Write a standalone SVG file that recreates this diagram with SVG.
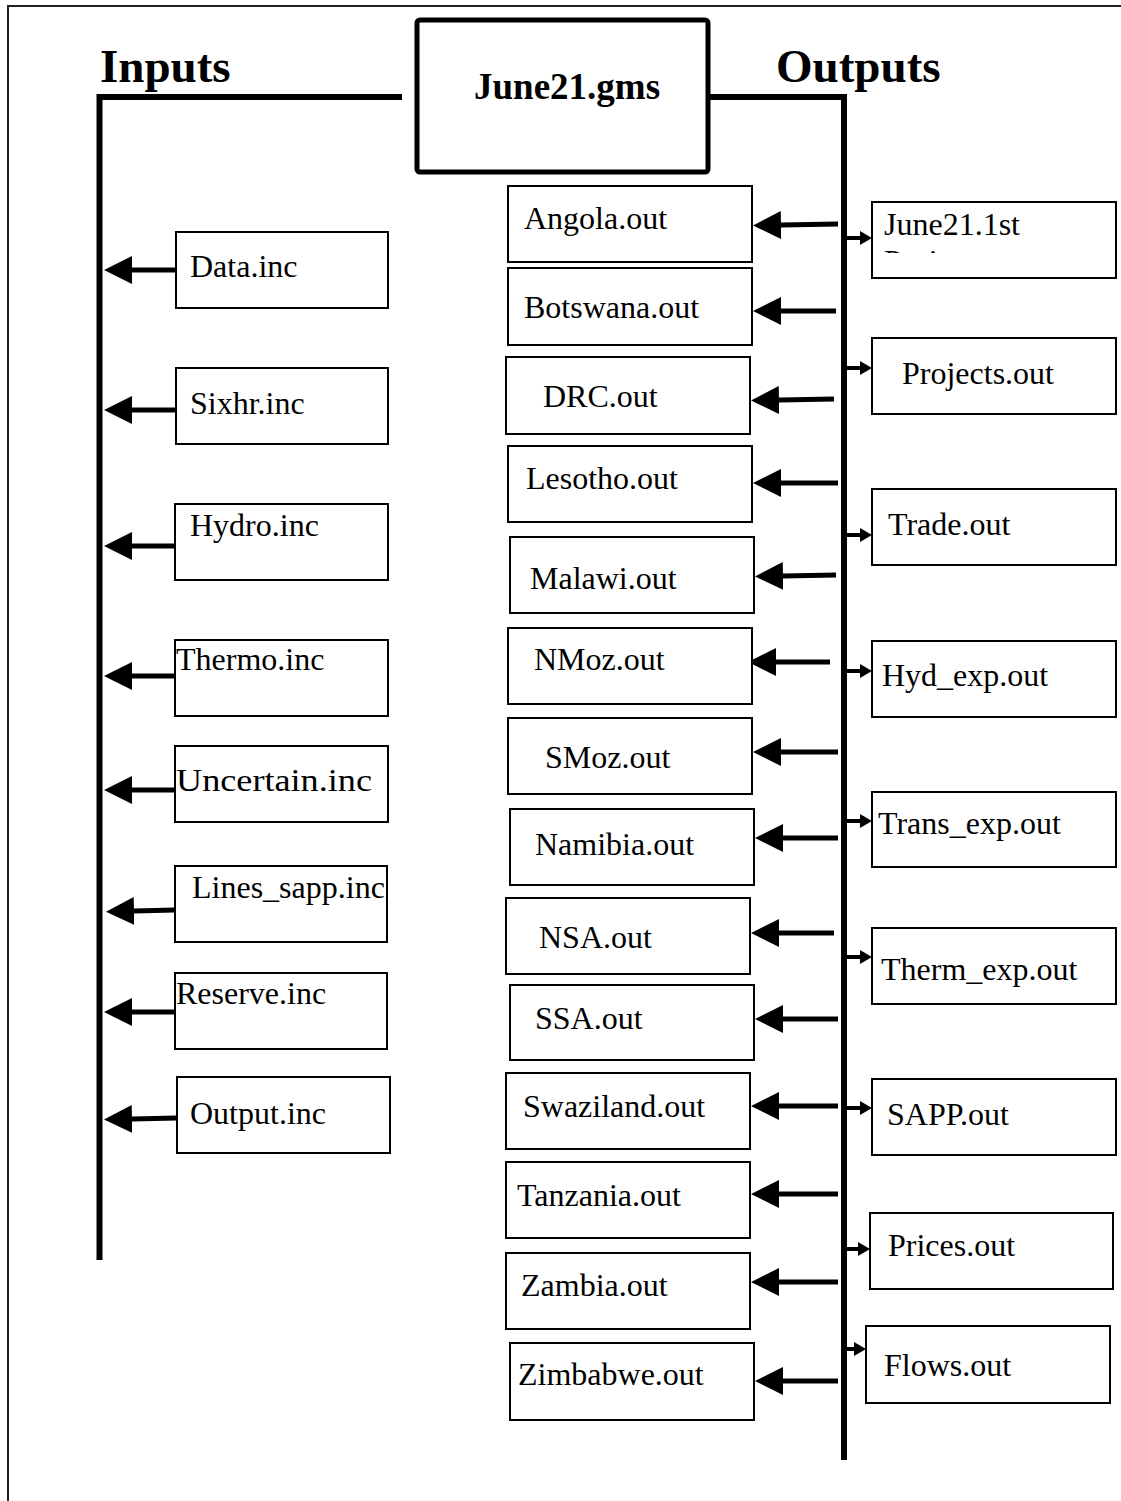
<svg xmlns="http://www.w3.org/2000/svg" width="1121" height="1501" viewBox="0 0 1121 1501">
  <style>
    .frame { fill: none; stroke: #222; stroke-width: 2; }
    .trunk { fill: none; stroke: #000; stroke-width: 6; }
    .box { fill: #fff; stroke: #000; stroke-width: 2; }
    .main { fill: #fff; stroke: #000; stroke-width: 5; }
    .lbl { font-family: "Liberation Serif", "Times New Roman", serif; font-size: 32px; fill: #000; }
    .head { font-family: "Liberation Serif", "Times New Roman", serif; font-weight: bold; font-size: 47px; fill: #000; }
    .gms { font-family: "Liberation Serif", "Times New Roman", serif; font-weight: bold; font-size: 37px; fill: #000; }
    .big { stroke: #000; stroke-width: 5; fill: none; marker-end: url(#bigHead); }
    .small { stroke: #000; stroke-width: 4; fill: none; marker-end: url(#smallHead); }
  </style>
  <defs>
    <marker id="bigHead" markerUnits="userSpaceOnUse" viewBox="0 -14 28 28" refX="0" refY="0" markerWidth="28" markerHeight="28" orient="auto">
      <path d="M0,-14 L28,0 L0,14 z" fill="#000"/>
    </marker>
    <marker id="smallHead" markerUnits="userSpaceOnUse" viewBox="0 -7 12 14" refX="0" refY="0" markerWidth="12" markerHeight="14" orient="auto">
      <path d="M0,-7 L12,0 L0,7 z" fill="#000"/>
    </marker>
    <clipPath id="firstClip">
      <rect x="873" y="203" width="242" height="50"/>
    </clipPath>
  </defs>

  <rect width="1121" height="1501" fill="#fff"/>

  <!-- page frame -->
  <path class="frame" d="M8,1501 L8,6 L1121,6"/>

  <!-- headings -->
  <text class="head" x="100" y="82">Inputs</text>
  <text class="head" x="776" y="82">Outputs</text>

  <!-- connectors: trunks and arrows -->
  <g id="connectors">
    <path class="trunk" d="M99.5,1260 L99.5,97 L402,97"/>
    <path class="trunk" d="M708,97 L844,97 L844,1460"/>

    <!-- include files feed the model -->
    <line class="big" x1="176" y1="270" x2="132" y2="270"/>
    <line class="big" x1="176" y1="410" x2="132" y2="410"/>
    <line class="big" x1="175" y1="546" x2="132" y2="546"/>
    <line class="big" x1="175" y1="676" x2="132" y2="676"/>
    <line class="big" x1="175" y1="790" x2="132" y2="790"/>
    <line class="big" x1="175" y1="910" x2="134" y2="911"/>
    <line class="big" x1="175" y1="1012" x2="132" y2="1012"/>
    <line class="big" x1="177" y1="1118" x2="132" y2="1119"/>

    <!-- country outputs -->
    <line class="big" x1="838" y1="224" x2="781" y2="225"/>
    <line class="big" x1="836" y1="311" x2="781" y2="311"/>
    <line class="big" x1="834" y1="399" x2="779" y2="400"/>
    <line class="big" x1="838" y1="483" x2="781" y2="483"/>
    <line class="big" x1="836" y1="575" x2="783" y2="576"/>
    <line class="big" x1="830" y1="662" x2="776" y2="662"/>
    <line class="big" x1="838" y1="752" x2="781" y2="752"/>
    <line class="big" x1="838" y1="838" x2="783" y2="838"/>
    <line class="big" x1="834" y1="933" x2="779" y2="933"/>
    <line class="big" x1="838" y1="1019" x2="783" y2="1019"/>
    <line class="big" x1="838" y1="1106" x2="779" y2="1106"/>
    <line class="big" x1="838" y1="1194" x2="779" y2="1194"/>
    <line class="big" x1="838" y1="1282" x2="779" y2="1282"/>
    <line class="big" x1="838" y1="1381" x2="783" y2="1381"/>

    <!-- summary outputs -->
    <line class="small" x1="846" y1="238" x2="860" y2="238"/>
    <line class="small" x1="846" y1="368" x2="860" y2="368"/>
    <line class="small" x1="846" y1="535" x2="860" y2="535"/>
    <line class="small" x1="846" y1="671" x2="860" y2="671"/>
    <line class="small" x1="846" y1="821" x2="860" y2="821"/>
    <line class="small" x1="846" y1="957" x2="860" y2="957"/>
    <line class="small" x1="846" y1="1108" x2="860" y2="1108"/>
    <line class="small" x1="846" y1="1249" x2="858" y2="1249"/>
    <line class="small" x1="846" y1="1349" x2="854" y2="1349"/>
  </g>

  <!-- model file -->
  <g id="june21-gms">
    <rect class="main" x="417" y="20" width="291" height="152" rx="3"/>
    <text class="gms" x="474" y="99">June21.gms</text>
  </g>

  <!-- include files -->
  <g id="data-inc"><rect class="box" x="176" y="232" width="212" height="76"/><text class="lbl" x="190" y="277">Data.inc</text></g>
  <g id="sixhr-inc"><rect class="box" x="176" y="368" width="212" height="76"/><text class="lbl" x="190" y="414">Sixhr.inc</text></g>
  <g id="hydro-inc"><rect class="box" x="175" y="504" width="213" height="76"/><text class="lbl" x="190" y="536">Hydro.inc</text></g>
  <g id="thermo-inc"><rect class="box" x="175" y="640" width="213" height="76"/><text class="lbl" x="176" y="670">Thermo.inc</text></g>
  <g id="uncertain-inc"><rect class="box" x="175" y="746" width="213" height="76"/><text class="lbl" x="176" y="791" textLength="196" lengthAdjust="spacingAndGlyphs">Uncertain.inc</text></g>
  <g id="lines-sapp-inc"><rect class="box" x="175" y="866" width="212" height="76"/><text class="lbl" x="192" y="898">Lines_sapp.inc</text></g>
  <g id="reserve-inc"><rect class="box" x="175" y="973" width="212" height="76"/><text class="lbl" x="176" y="1004">Reserve.inc</text></g>
  <g id="output-inc"><rect class="box" x="177" y="1077" width="213" height="76"/><text class="lbl" x="190" y="1124">Output.inc</text></g>

  <!-- country output files -->
  <g id="angola-out"><rect class="box" x="508" y="186" width="244" height="76"/><text class="lbl" x="524" y="229">Angola.out</text></g>
  <g id="botswana-out"><rect class="box" x="508" y="268" width="244" height="77"/><text class="lbl" x="524" y="318">Botswana.out</text></g>
  <g id="drc-out"><rect class="box" x="506" y="357" width="244" height="77"/><text class="lbl" x="543" y="407">DRC.out</text></g>
  <g id="lesotho-out"><rect class="box" x="508" y="446" width="244" height="76"/><text class="lbl" x="526" y="489">Lesotho.out</text></g>
  <g id="malawi-out"><rect class="box" x="510" y="537" width="244" height="76"/><text class="lbl" x="530" y="589">Malawi.out</text></g>
  <g id="nmoz-out"><rect class="box" x="508" y="628" width="244" height="76"/><text class="lbl" x="534" y="670">NMoz.out</text></g>
  <g id="smoz-out"><rect class="box" x="508" y="718" width="244" height="76"/><text class="lbl" x="545" y="768">SMoz.out</text></g>
  <g id="namibia-out"><rect class="box" x="510" y="809" width="244" height="76"/><text class="lbl" x="535" y="855">Namibia.out</text></g>
  <g id="nsa-out"><rect class="box" x="506" y="898" width="244" height="76"/><text class="lbl" x="539" y="948">NSA.out</text></g>
  <g id="ssa-out"><rect class="box" x="510" y="985" width="244" height="75"/><text class="lbl" x="535" y="1029">SSA.out</text></g>
  <g id="swaziland-out"><rect class="box" x="506" y="1073" width="244" height="76"/><text class="lbl" x="523" y="1117">Swaziland.out</text></g>
  <g id="tanzania-out"><rect class="box" x="506" y="1162" width="244" height="76"/><text class="lbl" x="517" y="1206">Tanzania.out</text></g>
  <g id="zambia-out"><rect class="box" x="506" y="1253" width="244" height="76"/><text class="lbl" x="521" y="1296">Zambia.out</text></g>
  <g id="zimbabwe-out"><rect class="box" x="510" y="1343" width="244" height="77"/><text class="lbl" x="518" y="1385">Zimbabwe.out</text></g>

  <!-- summary output files -->
  <g id="june21-1st"><rect class="box" x="872" y="202" width="244" height="76"/><text class="lbl" x="884" y="235" clip-path="url(#firstClip)">June21.1st<tspan x="884" dy="37">Projects</tspan></text></g>
  <g id="projects-out"><rect class="box" x="872" y="338" width="244" height="76"/><text class="lbl" x="902" y="384">Projects.out</text></g>
  <g id="trade-out"><rect class="box" x="872" y="489" width="244" height="76"/><text class="lbl" x="888" y="535">Trade.out</text></g>
  <g id="hyd-exp-out"><rect class="box" x="872" y="641" width="244" height="76"/><text class="lbl" x="882" y="686">Hyd_exp.out</text></g>
  <g id="trans-exp-out"><rect class="box" x="872" y="792" width="244" height="75"/><text class="lbl" x="878" y="834">Trans_exp.out</text></g>
  <g id="therm-exp-out"><rect class="box" x="872" y="928" width="244" height="76"/><text class="lbl" x="881" y="980">Therm_exp.out</text></g>
  <g id="sapp-out"><rect class="box" x="872" y="1079" width="244" height="76"/><text class="lbl" x="887" y="1125">SAPP.out</text></g>
  <g id="prices-out"><rect class="box" x="870" y="1213" width="243" height="76"/><text class="lbl" x="888" y="1256">Prices.out</text></g>
  <g id="flows-out"><rect class="box" x="866" y="1326" width="244" height="77"/><text class="lbl" x="884" y="1376">Flows.out</text></g>
</svg>
